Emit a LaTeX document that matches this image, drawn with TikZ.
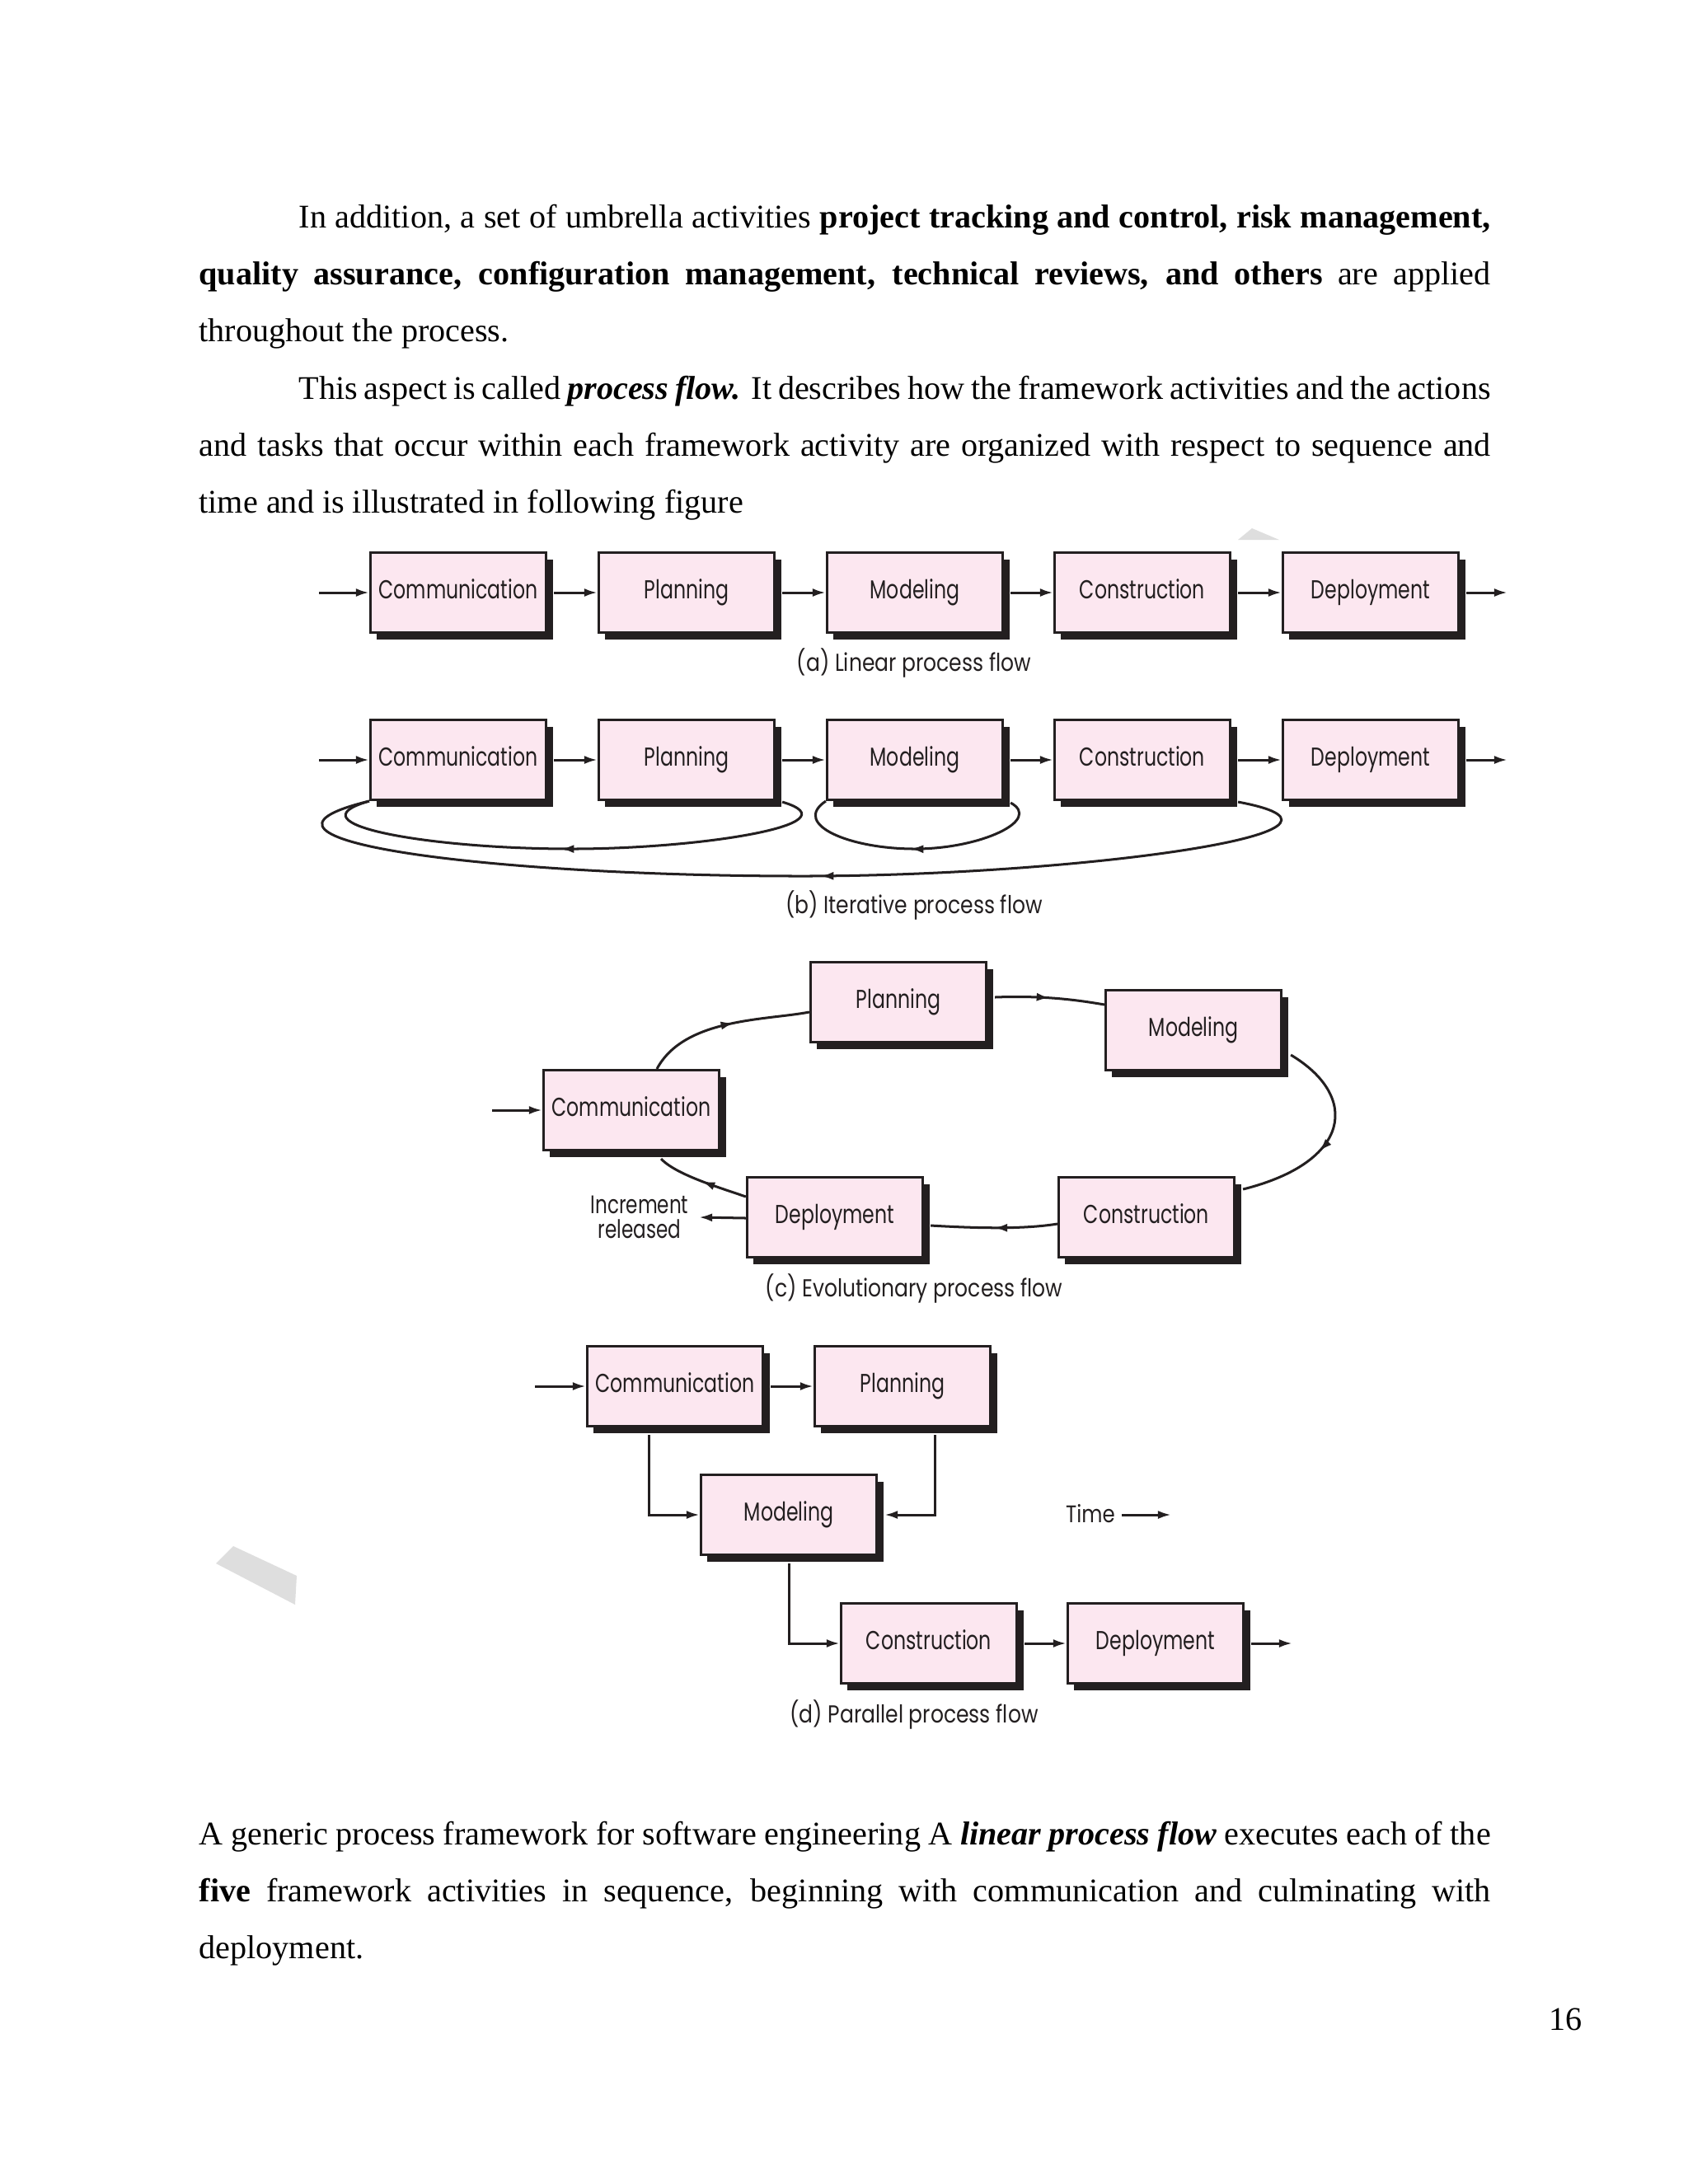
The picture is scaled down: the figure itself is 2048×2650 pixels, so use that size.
\documentclass[tikz,border=0pt]{standalone}
\usepackage{fontspec}
\setmainfont{Liberation Serif}
\newfontfamily\figfont[FakeStretch=0.84]{Poppins}
\newfontfamily\boxfont[FakeStretch=0.75]{Poppins}
\usetikzlibrary{arrows.meta,shadows,calc,decorations.markings}
\definecolor{boxpink}{RGB}{252,231,240}
\definecolor{ink}{RGB}{35,31,32}
\definecolor{wmgray}{RGB}{222,222,222}
\begin{document}
\begin{tikzpicture}[x=0.298828pt,y=-0.298828pt,
  box/.style={draw=ink, line width=0.8pt, fill=boxpink, minimum width=63.8pt, minimum height=29.1pt, inner sep=0pt,
    text height=6.7pt, text depth=2.3pt,
    drop shadow={shadow xshift=2.4pt, shadow yshift=-2.6pt, fill=ink, opacity=1},
    font=\boxfont\fontsize{9.4}{10}\selectfont, text=ink},
  conn/.style={draw=ink, line width=0.9pt},
  arr/.style={conn, -{Latex[length=4.8pt,width=3pt]}},
  midarrow/.style={conn, postaction={decorate}, decoration={markings, mark=at position #1 with {\arrow{Latex[length=4.8pt,width=3pt]}}}},
  figcap/.style={font=\figfont\fontsize{8.9}{10}\selectfont, text=ink, inner sep=0pt},
  lbl/.style={font=\boxfont\fontsize{9.2}{9}\selectfont, text=ink, inner sep=0pt},
  tlbl/.style={font=\figfont\fontsize{8.7}{9}\selectfont, text=ink, inner sep=0pt},
  body/.style={anchor=base west, inner sep=0pt, font=\fontsize{12}{14}\selectfont},
]
\fill[white] (0,0) rectangle (2048,2650);
\useasboundingbox (0,0) rectangle (2048,2650);

% body text
\node[body] (t1) at (362,276) {\makebox[432.1pt][s]{In addition, a set of umbrella activities \textbf{project tracking and control, risk management,}}};
\node[body] (t2) at (241,345) {\makebox[468.3pt][s]{\textbf{quality assurance, configuration management, technical reviews, and others} are applied}};
\node[body] (t3) at (241,414) {throughout the process.};
\node[body] (t4) at (362,484) {\makebox[432.1pt][s]{This aspect is called \textbf{\textit{process flow.}} It describes how the framework activities and the actions}};
\node[body] (t5) at (241,553) {\makebox[468.3pt][s]{and tasks that occur within each framework activity are organized with respect to sequence and}};
\node[body] (t6) at (241,622) {time and is illustrated in following figure};
\node[body] (t7) at (241,2238) {\makebox[468.3pt][s]{A generic process framework for software engineering A \textbf{\textit{linear process flow}} executes each of the}};
\node[body] (t8) at (241,2307) {\makebox[468.3pt][s]{\textbf{five} framework activities in sequence, beginning with communication and culminating with}};
\node[body] (t9) at (241,2376) {deployment.};
\node[body, anchor=base east] (pg) at (1920,2463) {16};

% watermark fragments
\fill[wmgray] (1502,655) -- (1519,641) -- (1552,655) -- cycle;
\fill[wmgray] (283,1876) -- (360,1912) -- (358,1947) -- (262,1897) -- cycle;

% (a) linear
\node[box] (a1) at (556,719) {Communication};
\node[box] (a2) at (833,719) {Planning};
\node[box] (a3) at (1110,719) {Modeling};
\node[box] (a4) at (1386,719) {Construction};
\node[box] (a5) at (1663,719) {Deployment};
\coordinate (a0) at (387,719);
\coordinate (aout) at (1829,719);
\draw[arr] (a0) -- (a1.west);
\draw[arr] ($(a1.east)+(8,0)$) -- (a2.west);
\draw[arr] ($(a2.east)+(8,0)$) -- (a3.west);
\draw[arr] ($(a3.east)+(8,0)$) -- (a4.west);
\draw[arr] ($(a4.east)+(8,0)$) -- (a5.west);
\draw[arr] ($(a5.east)+(8,0)$) -- (aout);
\node[figcap] (capa) at (1109,804) {(a) Linear process flow};

% (b) iterative
\node[box] (b1) at (556,922) {Communication};
\node[box] (b2) at (833,922) {Planning};
\node[box] (b3) at (1110,922) {Modeling};
\node[box] (b4) at (1386,922) {Construction};
\node[box] (b5) at (1663,922) {Deployment};
\coordinate (b0) at (387,922);
\coordinate (bout) at (1829,922);
\draw[arr] (b0) -- (b1.west);
\draw[arr] ($(b1.east)+(8,0)$) -- (b2.west);
\draw[arr] ($(b2.east)+(8,0)$) -- (b3.west);
\draw[arr] ($(b3.east)+(8,0)$) -- (b4.west);
\draw[arr] ($(b4.east)+(8,0)$) -- (b5.west);
\draw[arr] ($(b5.east)+(8,0)$) -- (bout);
\draw[midarrow=0.52] ($(b2.south east)+(8,1)$) .. controls (1040,1000) and (850,1030) .. (694,1030)
   .. controls (520,1030) and (350,1000) .. (b1.south west);
\draw[midarrow=0.48] ($(b4.south east)+(8,1)$) .. controls (1700,1010) and (1300,1063) .. (973,1063)
   .. controls (600,1063) and (250,1020) .. (b1.south west);
\draw[midarrow=0.52] ($(b3.south east)+(8,2)$) .. controls (1265,995) and (1190,1030) .. (1110,1030)
   .. controls (1030,1030) and (960,1000) .. (b3.south west);
\node[figcap] (capb) at (1109,1098) {(b) Iterative process flow};

% (c) evolutionary
\node[box] (c1) at (766,1347) {Communication};
\node[box] (c2) at (1090,1216) {Planning};
\node[box] (c3) at (1448,1250) {Modeling};
\node[box] (c4) at (1391,1477) {Construction};
\node[box] (c5) at (1013,1477) {Deployment};
\coordinate (c0) at (597,1347);
\draw[arr] (c0) -- (c1.west);
\draw[midarrow=0.55] ($(c1.north)+(31,0)$) .. controls (830,1235) and (930,1238) .. ($(c2.west)+(0,12)$);
\draw[midarrow=0.5] ($(c2.east)+(9,-6)$) .. controls (1260,1208) and (1300,1212) .. ($(c3.west)+(0,-31)$);
\draw[midarrow=0.58] ($(c3.east)+(10,30)$) .. controls (1650,1330) and (1640,1410) .. ($(c4.east)+(9,-34)$);
\draw[midarrow=0.5] ($(c4.west)+(0,8)$) .. controls (1240,1492) and (1180,1490) .. ($(c5.east)+(8,10)$);
\draw[midarrow=0.5] ($(c5.west)+(0,-25)$) .. controls (870,1440) and (820,1425) .. ($(c1.south)+(36,9)$);
\node[lbl, align=center, inner xsep=3.6pt] (inc) at (776,1477) {Increment\\released};
\draw[arr] ($(c5.west)+(0,1)$) -- (inc.east);
\node[figcap] (capc) at (1109,1563) {(c) Evolutionary process flow};

% (d) parallel
\node[box] (d1) at (819,1682) {Communication};
\node[box] (d2) at (1095,1682) {Planning};
\node[box] (d3) at (957,1838) {Modeling};
\node[box] (d4) at (1127,1994) {Construction};
\node[box] (d5) at (1402,1994) {Deployment};
\coordinate (d0) at (649,1682);
\coordinate (dout) at (1568,1994);
\draw[arr] (d0) -- (d1.west);
\draw[arr] ($(d1.east)+(8,0)$) -- (d2.west);
\draw[arr] ($(d1.south)+(-32,9)$) |- (d3.west);
\draw[arr] ($(d2.south)+(39,9)$) |- ($(d3.east)+(8,0)$);
\draw[arr] ($(d3.south)+(0,9)$) |- (d4.west);
\draw[arr] ($(d4.east)+(8,0)$) -- (d5.west);
\draw[arr] ($(d5.east)+(8,0)$) -- (dout);
\node[tlbl] (time) at (1323,1837) {Time};
\coordinate (tend) at (1421,1838);
\draw[arr] ($(time.east)+(8,1)$) -- (tend);
\node[figcap] (capd) at (1109,2080) {(d) Parallel process flow};
\end{tikzpicture}
\end{document}
